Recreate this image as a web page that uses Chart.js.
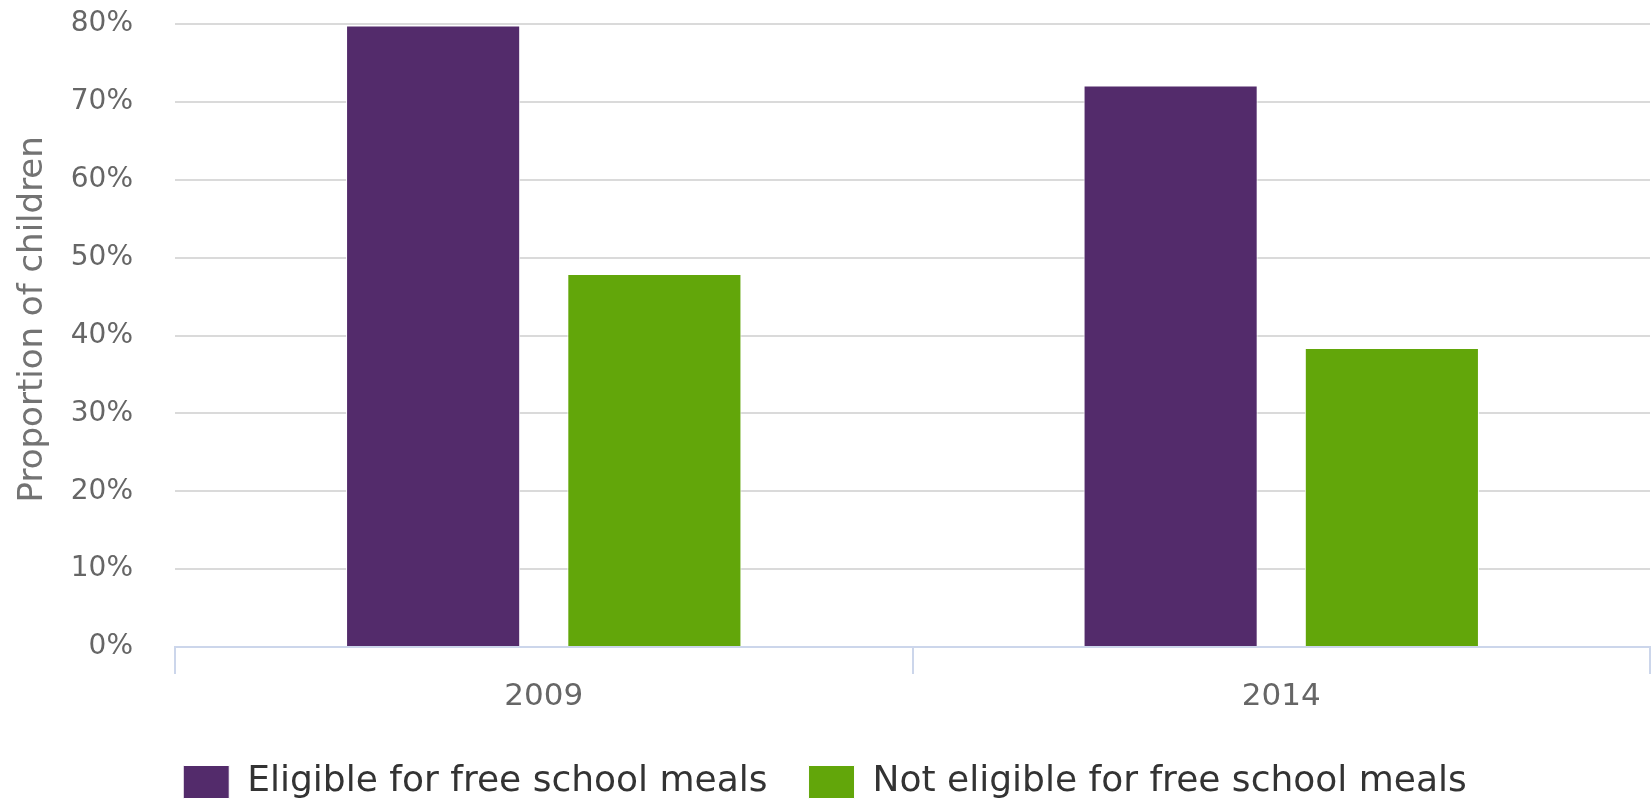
<!DOCTYPE html>
<html>
<head>
<meta charset="utf-8">
<script src="https://cdn.jsdelivr.net/npm/chart.js@4/dist/chart.umd.min.js"></script>
<style>
  html, body { margin: 0; padding: 0; background: #fff; }
  #wrap { width: 1651px; height: 803px; }
</style>
</head>
<body>
<div id="wrap"><canvas id="grafica"></canvas></div>
<script>
// datos
const years = ['2009', '2014'];
const eligible = [79.8, 72.1];
const notEligible = [47.9, 38.4];
const seriesNames = ['Eligible for free school meals', 'Not eligible for free school meals'];
const yTicks = [0, 10, 20, 30, 40, 50, 60, 70, 80];

const fuente = 'DejaVu Sans';

new Chart(document.getElementById('grafica'), {
    type: 'bar',
    data: {
        labels: years,
        datasets: [
            {
                label: seriesNames[0],
                data: eligible,
                backgroundColor: '#532b6b',
                borderColor: '#ffffff',
                borderWidth: 1,
                barPercentage: 0.787,
                categoryPercentage: 0.6
            },
            {
                label: seriesNames[1],
                data: notEligible,
                backgroundColor: '#62a60a',
                borderColor: '#ffffff',
                borderWidth: 1,
                barPercentage: 0.787,
                categoryPercentage: 0.6
            }
        ]
    },
    options: {
        responsive: true,
        maintainAspectRatio: false,
        animation: false,
        layout: { padding: { top: 24, right: 1, left: 0, bottom: -7 } },
        scales: {
            x: {
                offset: true,
                grid: {
                    display: true,
                    offset: true,
                    drawOnChartArea: false,
                    drawTicks: true,
                    tickLength: 27,
                    color: '#ccd6eb',
                    lineWidth: 2
                },
                border: { display: true, color: '#ccd6eb', width: 2 },
                ticks: {
                    color: '#666666',
                    font: { family: fuente, size: 31 },
                    padding: 4
                },
                afterFit: function(scale) { scale.height = 76; }
            },
            y: {
                min: 0,
                max: 80,
                afterBuildTicks: function(scale) {
                    scale.ticks = yTicks.map(v => ({ value: v }));
                },
                grid: {
                    drawTicks: false,
                    lineWidth: 2,
                    color: ctx => ctx.tick && ctx.tick.value === 0 ? 'rgba(0,0,0,0)' : '#dadada'
                },
                border: { display: false },
                ticks: {
                    color: '#666666',
                    font: { family: fuente, size: 28 },
                    padding: 42,
                    callback: function(value) { return value + '%'; }
                },
                title: {
                    display: true,
                    // espacios al inicio para subir un poco el titulo
                    text: '   Proportion of children',
                    color: '#737373',
                    font: { family: fuente, size: 34 },
                    padding: { top: 13, bottom: 0 }
                },
                afterFit: function(scale) {
                    scale.width = 175;
                    scale.paddingTop = 0;
                    scale.paddingBottom = 0;
                }
            }
        },
        plugins: {
            legend: {
                position: 'bottom',
                labels: {
                    boxWidth: 46,
                    boxHeight: 33,
                    padding: 41,
                    color: '#333333',
                    font: { family: fuente, size: 36 }
                }
            },
            tooltip: { enabled: false }
        }
    }
});
</script>
</body>
</html>
